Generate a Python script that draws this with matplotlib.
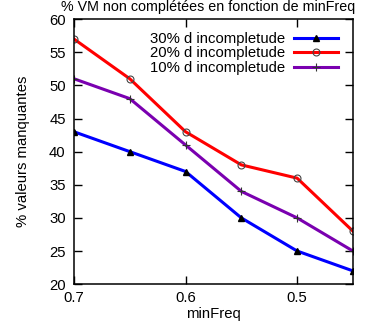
import matplotlib
matplotlib.use("Agg")
import matplotlib.pyplot as plt

min_freq = [0.7, 0.65, 0.6, 0.55, 0.5, 0.45]
incomp_30 = [43, 40, 37, 30, 25, 22]
incomp_20 = [57, 51, 43, 38, 36, 28]
incomp_10 = [51, 48, 41, 34, 30, 25]
labels = ["30% d incompletude", "20% d incompletude", "10% d incompletude"]

plt.rcParams["font.family"] = ["Liberation Sans", "DejaVu Sans"]
plt.rcParams["font.size"] = 10.7

fig = plt.figure(figsize=(3.68, 3.24), dpi=100)
ax = fig.add_axes([0.201, 0.123, 0.758, 0.818])

ax.plot(min_freq, incomp_30, color="#0000ff", lw=2.2, marker="^", ms=4,
        mfc="black", mec="black", label=labels[0])
ax.plot(min_freq, incomp_20, color="#ff0000", lw=2.2, marker="o", ms=5,
        mfc="none", mec="#444444", mew=0.8, label=labels[1])
ax.plot(min_freq, incomp_10, color="#7a00b0", lw=2.2, marker="+", ms=6,
        mec="#333333", mew=0.8, label=labels[2])

ax.set_xlim(0.7, 0.45)
ax.set_ylim(20, 60)
ax.set_xticks([0.7, 0.6, 0.5])
ax.set_yticks(range(20, 61, 5))
ax.tick_params(direction="in", length=6, width=1, top=True, right=True)
ax.tick_params(axis="y", pad=6)
ax.tick_params(axis="x", pad=5)
for s in ax.spines.values():
    s.set_linewidth(1.1)

ax.set_ylabel("% valeurs manquantes", labelpad=14)
ax.xaxis.set_label_coords(0.5, -0.088)
ax.set_xlabel("minFreq")
fig.text(0.565, 0.999, "% VM non complétées en fonction de minFreq", ha="center",
         va="top", fontsize=10.3)

ax.legend(loc="upper right", frameon=False, markerfirst=False, handlelength=3.0,
          labelspacing=0.02, borderaxespad=0.3, handletextpad=0.6,
          bbox_to_anchor=(0.985, 0.99))

fig.savefig("out.png", dpi=100)
